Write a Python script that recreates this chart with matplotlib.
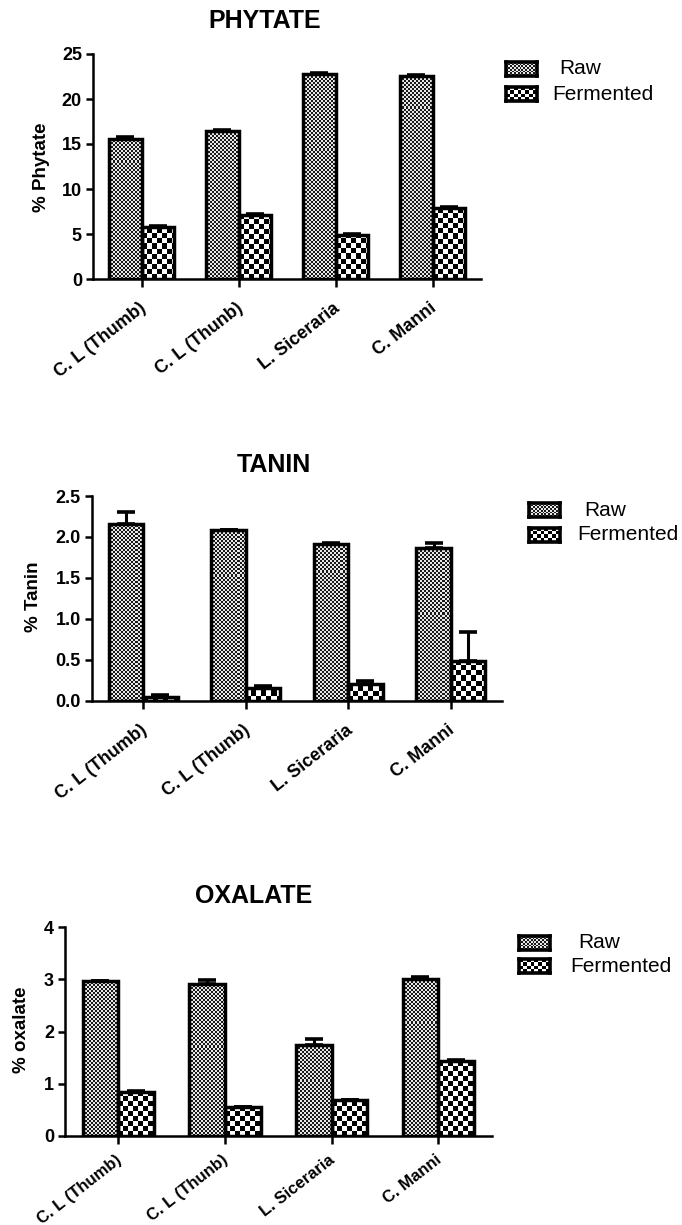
import numpy as np
import matplotlib
matplotlib.use("Agg")
import matplotlib.pyplot as plt
from matplotlib.colors import ListedColormap
from matplotlib.transforms import ScaledTranslation

plt.rcParams['font.family'] = ['Liberation Sans', 'DejaVu Sans']

# ================= DATA =================#
categories = ["C. L (Thumb)", "C. L (Thunb)", "L. Siceraria", "C. Manni"]

phytate_raw = [15.6, 16.4, 22.8, 22.6]
phytate_raw_err = [0.15, 0.2, 0.1, 0.1]
phytate_ferm = [5.8, 7.1, 4.9, 7.9]
phytate_ferm_err = [0.1, 0.1, 0.15, 0.05]

tanin_raw = [2.16, 2.08, 1.91, 1.87]
tanin_raw_err = [0.15, 0.0, 0.01, 0.05]
tanin_ferm = [0.05, 0.15, 0.20, 0.49]
tanin_ferm_err = [0.02, 0.03, 0.04, 0.35]

oxalate_raw = [2.97, 2.92, 1.75, 3.0]
oxalate_raw_err = [0.0, 0.06, 0.1, 0.05]
oxalate_ferm = [0.84, 0.55, 0.68, 1.43]
oxalate_ferm_err = [0.02, 0.0, 0.0, 0.02]

W, H = 682, 1225
fig = plt.figure(figsize=(W / 100, H / 100), dpi=100)


def fx(x):
    return x / W


def fy(y):
    return 1 - y / H


RAW_CELL, FERM_CELL = 2, 5
raw_cmap = ListedColormap(['#1a1a1a', '#e8e8e8'])
ferm_cmap = ListedColormap(['black', 'white'])


def board(nx, ny):
    return np.add.outer(np.arange(ny), np.arange(nx)) % 2


def fill_check(ax, bar, cell, cmap):
    # checkerboard fill clipped to the bar, cells fixed in pixels
    x0, w, h = bar.get_x(), bar.get_width(), bar.get_height()
    p0 = ax.transData.transform((x0, 0))
    p1 = ax.transData.transform((x0 + w, h))
    wpx, hpx = p1[0] - p0[0], p1[1] - p0[1]
    nx, ny = int(np.ceil(wpx / cell)), int(np.ceil(hpx / cell))
    ext = [x0, x0 + nx * cell * w / wpx, 0, ny * cell * h / hpx]
    im = ax.imshow(board(nx, ny), cmap=cmap, extent=ext, origin='lower',
                   interpolation='nearest', aspect='auto', zorder=2)
    im.set_clip_path(bar)


def panel(rect, raw, raw_err, ferm, ferm_err, ymax, yticks, fmt, xfs=13, xpad=9):
    ax = fig.add_axes(rect)
    ax.set_xlim(-0.5, 3.5)
    ax.set_ylim(0, ymax)
    x = np.arange(len(categories))
    bw = 0.335
    bars_r = ax.bar(x - bw / 2, raw, bw, facecolor='none', edgecolor='black', linewidth=2.5, zorder=3)
    bars_f = ax.bar(x + bw / 2, ferm, bw, facecolor='none', edgecolor='black', linewidth=2.5, zorder=3)
    for b in bars_r:
        fill_check(ax, b, RAW_CELL, raw_cmap)
    for b in bars_f:
        fill_check(ax, b, FERM_CELL, ferm_cmap)
    zeros = np.zeros(len(categories))
    ax.errorbar(x - bw / 2, raw, yerr=[zeros, raw_err], fmt='none', ecolor='black',
                elinewidth=2.2, capsize=6.5, capthick=2.6, zorder=4)
    ax.errorbar(x + bw / 2, ferm, yerr=[zeros, ferm_err], fmt='none', ecolor='black',
                elinewidth=2.2, capsize=6.5, capthick=2.6, zorder=4)
    ax.set_xlim(-0.5, 3.5)
    ax.set_ylim(0, ymax)

    for s in ['top', 'right']:
        ax.spines[s].set_visible(False)
    for s in ['left', 'bottom']:
        ax.spines[s].set_linewidth(1.8)
        ax.spines[s].set_zorder(5)
    ax.set_yticks(yticks)
    ax.set_yticklabels([fmt.format(v) for v in yticks], fontsize=13, fontweight='bold')
    ax.set_xticks(x)
    ax.set_xticklabels(categories, fontsize=xfs, fontweight='bold', rotation=38,
                       ha='right', va='top', rotation_mode='anchor')
    ax.tick_params(axis='both', width=1.8, length=5, direction='out', pad=3)
    ax.tick_params(axis='x', length=6, pad=xpad)
    shift = ScaledTranslation(-0.03, 0, fig.dpi_scale_trans)
    for lab in ax.get_xticklabels():
        lab.set_transform(lab.get_transform() + shift)
    return ax


def legend(x_sw, y_raw, y_ferm, x_raw_txt, x_ferm_txt):
    for y, cell, cmap, label, xt in [(y_raw, RAW_CELL, raw_cmap, 'Raw', x_raw_txt),
                                     (y_ferm, 4, ferm_cmap, 'Fermented', x_ferm_txt)]:
        sw = fig.add_axes([fx(x_sw), fy(y + 7), fx(31), 14 / H])
        sw.imshow(board(31 // cell + 1, 14 // cell + 1), cmap=cmap,
                  interpolation='nearest', aspect='auto')
        sw.set_xticks([])
        sw.set_yticks([])
        for s in sw.spines.values():
            s.set_linewidth(2.6)
        fig.text(fx(xt), fy(y), label, fontsize=15, va='center', ha='left')


# PHYTATE
panel([fx(93), fy(279), fx(481 - 93), 225 / H], phytate_raw, phytate_raw_err,
      phytate_ferm, phytate_ferm_err, 25, [0, 5, 10, 15, 20, 25], '{:g}')
fig.text(fx(265), fy(21), 'PHYTATE', fontsize=18, fontweight='bold', ha='center', va='center')
fig.text(fx(42), fy(167), '% Phytate', fontsize=13.5, fontweight='bold', rotation=90, ha='center', va='center')
legend(506, 69, 94, 559, 552)

# TANIN
panel([fx(92), fy(700.7), fx(502 - 92), 204.7 / H], tanin_raw, tanin_raw_err,
      tanin_ferm, tanin_ferm_err, 2.5, [0, 0.5, 1.0, 1.5, 2.0, 2.5], '{:.1f}')
fig.text(fx(274), fy(465), 'TANIN', fontsize=18, fontweight='bold', ha='center', va='center')
fig.text(fx(33), fy(597), '% Tanin', fontsize=13.5, fontweight='bold', rotation=90, ha='center', va='center')
legend(529, 510, 535, 584, 577)

# OXALATE
panel([fx(65), fy(1135.7), fx(491.7 - 65), 208.4 / H], oxalate_raw, oxalate_raw_err,
      oxalate_ferm, oxalate_ferm_err, 4, [0, 1, 2, 3, 4], '{:g}', xfs=12, xpad=6)
fig.text(fx(254), fy(896), 'OXALATE', fontsize=18, fontweight='bold', ha='center', va='center')
fig.text(fx(22), fy(1030), '% oxalate', fontsize=13.5, fontweight='bold', rotation=90, ha='center', va='center')
legend(519, 943, 966, 578, 570)

fig.savefig('out.png', dpi=100)
